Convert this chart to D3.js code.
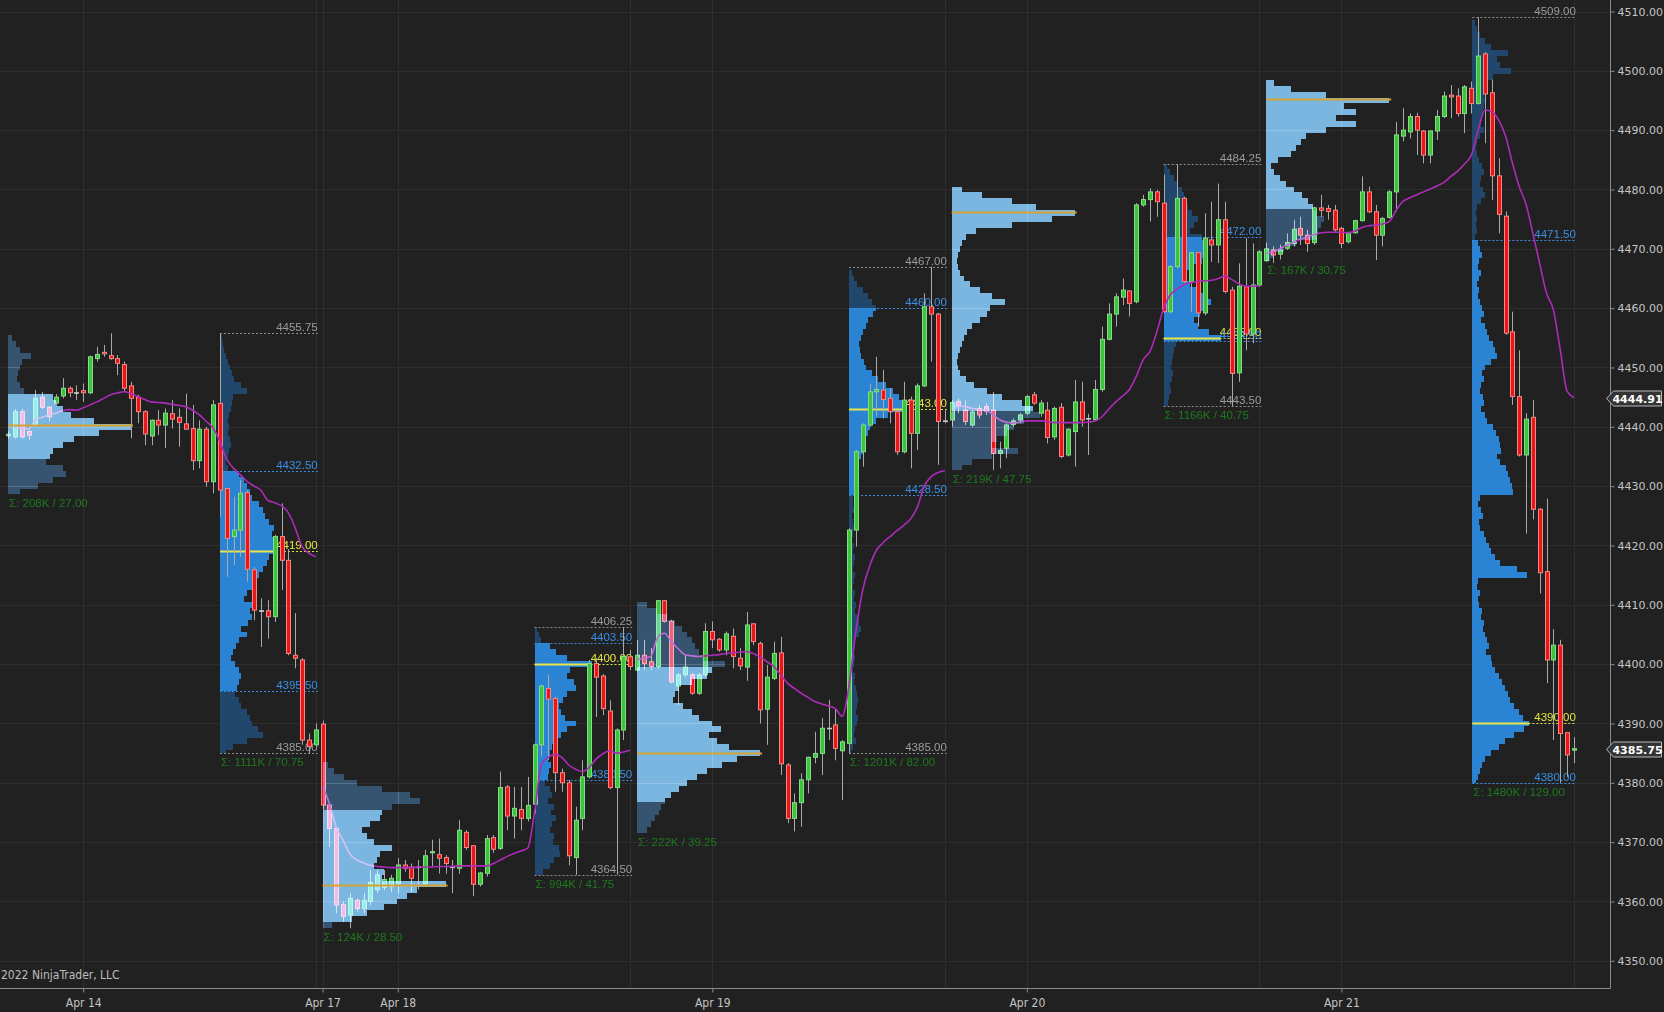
<!DOCTYPE html>
<html>
<head>
<meta charset="utf-8">
<script src="https://cdn.jsdelivr.net/npm/d3@7/dist/d3.min.js"></script>
<style>
  html, body { margin:0; padding:0; background:#212121; overflow:hidden; }
  svg { display:block; }
</style>
</head>
<body>
<svg id="chart" width="1664" height="1012"></svg>
<script>
// ---------------- DATA ----------------
const opens = [
4438.5,4438.3,4442.55,4439.2,4440.3,4445.0,4443.3,4444.0,4445.2,4446.5,
4445.75,4446.1,4445.75,4451.5,4452.55,4452.0,4451.5,4450.5,4446.9,4445.0,
4442.55,4438.45,4441.1,4440.3,4442.2,4441.6,4440.5,4439.7,4434.3,4439.6,
4430.75,4443.95,4429.6,4421.5,4422.6,4428.9,4415.9,4409.0,4409.0,4408.0,
4421.5,4417.5,4401.5,4400.7,4387.2,4386.4,4389.9,4376.25,4372.3,4359.5,
4357.7,4360.2,4358.8,4360.0,4362.0,4362.4,4362.5,4363.0,4366.15,4365.8,
4365.8,4363.0,4368.2,4367.9,4367.4,4365.8,4365.6,4371.65,4369.4,4362.9,
4364.75,4370.75,4368.95,4379.3,4374.4,4375.5,4374.0,4376.4,4386.4,4395.9,
4394.2,4381.7,4380.0,4367.4,4374.0,4381.0,4400.1,4398.0,4392.1,4379.2,
4388.9,4401.25,4399.0,4401.5,4400.4,4399.6,4410.7,4407.2,4396.3,4398.2,
4398.2,4395.1,4398.2,4405.5,4404.2,4402.4,4404.7,4401.0,4399.5,4406.8,
4403.5,4392.4,4397.6,4401.9,4383.0,4374.0,4376.65,4380.5,4384.3,4384.95,
4389.2,4389.75,4385.4,4386.65,4422.6,4435.8,4440.3,4445.9,4446.2,4444.8,
4442.55,4435.8,4444.5,4438.9,4446.9,4460.25,4459.0,4441.0,4441.15,4444.3,
4442.8,4440.3,4443.1,4443.4,4442.8,4435.5,4436.4,4440.4,4441.15,4442.3,
4445.4,4442.3,4442.8,4438.3,4443.3,4435.25,4439.2,4444.2,4441.4,4441.2,
4446.3,4454.75,4459.0,4461.85,4462.9,4461.1,4477.4,4478.3,4479.6,4477.7,
4459.4,4467.0,4478.5,4464.5,4469.35,4459.2,4471.5,4470.65,4474.9,4463.05,
4449.1,4463.6,4455.65,4463.9,4468.0,4469.8,4469.1,4470.1,4470.9,4473.45,
4472.3,4471.05,4476.9,4476.8,4476.5,4473.45,4471.2,4472.7,4474.75,4479.6,
4476.25,4472.3,4475.3,4479.6,4489.0,4489.7,4492.3,4489.86,4485.8,4489.86,
4492.3,4495.9,4495.75,4492.8,4497.05,4494.5,4502.85,4496.3,4482.3,4475.5,
4456.0,4445.1,4435.25,4441.6,4426.1,4415.6,4400.7,4403.2,4388.45,4385.5
];
const highs = [
4439.25,4443.0,4443.0,4439.5,4446.2,4445.9,4443.5,4445.5,4448.2,4446.8,
4447.0,4447.3,4452.0,4453.5,4453.8,4455.75,4452.1,4451.0,4447.6,4445.4,
4442.8,4441.25,4442.8,4443.1,4444.5,4443.1,4445.6,4443.7,4441.1,4440.0,
4444.5,4455.75,4429.6,4428.2,4431.0,4429.3,4416.4,4411.1,4410.8,4421.8,
4427.1,4419.4,4408.6,4401.0,4388.3,4390.0,4390.5,4376.5,4372.5,4360.0,
4361.4,4360.5,4361.4,4365.3,4365.3,4365.3,4364.5,4367.3,4367.0,4366.4,
4367.0,4368.7,4370.4,4370.6,4367.8,4367.0,4373.7,4372.0,4369.5,4365.0,
4371.2,4371.2,4381.9,4379.6,4379.3,4379.3,4381.0,4386.65,4396.5,4398.2,
4394.5,4382.4,4380.5,4376.0,4383.8,4400.7,4401.0,4398.3,4393.9,4389.2,
4406.25,4402.4,4404.1,4404.1,4402.7,4410.75,4410.75,4407.5,4398.5,4401.5,
4398.5,4398.5,4406.9,4407.2,4404.4,4405.5,4406.0,4402.7,4408.8,4406.9,
4403.8,4399.85,4403.8,4404.6,4383.3,4378.2,4381.6,4384.4,4388.6,4390.9,
4394.0,4392.6,4387.2,4422.9,4436.1,4440.6,4447.3,4451.8,4449.6,4446.5,
4442.8,4447.6,4445.1,4447.3,4462.5,4467.0,4459.2,4442.8,4444.5,4444.8,
4444.5,4442.8,4443.7,4444.0,4445.9,4437.5,4440.6,4441.4,4442.3,4445.4,
4445.9,4444.5,4444.2,4443.4,4444.0,4439.75,4447.9,4447.6,4442.2,4447.9,
4456.9,4460.8,4462.5,4465.0,4463.0,4477.7,4479.1,4480.2,4479.9,4482.5,
4467.3,4484.25,4478.8,4469.5,4469.5,4476.0,4477.95,4481.0,4477.95,4463.6,
4467.55,4471.8,4470.9,4469.8,4471.05,4470.4,4470.7,4472.6,4474.9,4475.4,
4473.2,4477.1,4479.1,4477.4,4477.4,4473.7,4472.9,4474.9,4482.2,4480.5,
4477.4,4475.4,4479.9,4491.4,4493.7,4492.8,4492.95,4490.0,4490.0,4493.4,
4496.5,4497.6,4497.05,4497.6,4498.2,4509.0,4503.2,4498.5,4485.25,4476.3,
4459.4,4452.9,4442.3,4444.5,4426.3,4427.9,4405.9,4404.1,4388.45,4387.7
];
const lows = [
4438.0,4438.0,4438.0,4437.8,4440.0,4443.0,4441.0,4443.5,4444.8,4445.0,
4444.5,4444.2,4445.5,4451.0,4451.8,4451.3,4448.7,4446.0,4438.05,4440.6,
4436.9,4436.9,4438.6,4436.4,4439.7,4436.65,4439.5,4432.7,4433.0,4429.9,
4428.8,4424.85,4414.7,4416.7,4418.1,4413.9,4407.4,4402.9,4404.3,4407.1,
4412.5,4401.5,4399.3,4386.4,4385.0,4386.1,4375.5,4369.2,4358.0,4356.6,
4355.5,4358.3,4358.0,4359.4,4361.5,4361.9,4361.6,4361.4,4365.0,4361.6,
4362.0,4362.8,4365.9,4364.7,4364.7,4361.4,4364.7,4368.7,4360.9,4362.5,
4364.2,4368.2,4368.7,4372.0,4370.6,4372.0,4373.5,4374.85,4384.4,4383.8,
4378.5,4378.5,4366.1,4364.5,4372.0,4380.7,4391.1,4391.4,4378.9,4364.5,
4387.2,4399.0,4398.8,4399.0,4399.0,4399.2,4407.0,4396.8,4393.1,4397.8,
4394.8,4394.8,4397.9,4402.7,4402.1,4401.5,4399.3,4399.0,4397.2,4403.2,
4390.0,4386.4,4397.3,4381.3,4373.2,4371.8,4372.6,4378.2,4383.3,4381.3,
4387.2,4383.8,4377.1,4385.0,4419.8,4433.3,4440.0,4441.7,4441.4,4440.6,
4435.25,4435.5,4433.0,4436.1,4446.7,4451.0,4433.6,4440.6,4440.0,4442.3,
4440.3,4440.0,4441.4,4442.0,4432.7,4433.0,4434.7,4440.0,4440.6,4442.0,
4443.7,4441.7,4437.2,4437.8,4434.7,4435.0,4433.3,4440.0,4435.25,4441.1,
4445.9,4454.6,4456.9,4460.5,4458.6,4460.8,4477.1,4474.6,4475.4,4459.2,
4459.1,4466.7,4464.2,4459.4,4456.9,4458.8,4467.8,4467.6,4462.5,4443.5,
4447.6,4452.9,4454.1,4463.6,4467.8,4467.6,4468.2,4469.8,4470.4,4470.65,
4469.5,4470.65,4475.4,4474.9,4472.9,4470.1,4470.9,4472.6,4474.6,4476.0,
4468.1,4470.4,4475.1,4476.3,4488.1,4488.6,4485.8,4484.4,4484.4,4488.35,
4492.0,4492.0,4492.3,4489.5,4492.8,4494.3,4487.8,4478.2,4472.6,4455.5,
4443.7,4435.0,4422.0,4424.4,4411.9,4396.8,4387.2,4380.0,4381.0,4383.3
];
const closes = [
4438.75,4442.55,4438.3,4438.6,4444.8,4443.3,4441.7,4445.0,4446.5,4445.75,
4445.75,4445.75,4451.8,4452.2,4452.3,4451.5,4450.7,4446.5,4444.8,4442.55,
4438.8,4441.1,4440.3,4442.3,4441.3,4440.75,4439.6,4434.3,4439.6,4430.75,
4443.7,4429.35,4421.2,4422.6,4428.8,4416.0,4409.1,4409.0,4408.0,4421.5,
4417.5,4401.8,4401.0,4387.2,4386.1,4388.9,4376.25,4372.3,4359.4,4357.5,
4360.5,4358.8,4360.2,4363.2,4364.5,4363.7,4363.9,4366.15,4365.6,4363.9,
4365.8,4367.7,4368.4,4367.3,4366.4,4365.8,4372.0,4369.1,4362.9,4364.8,
4370.6,4368.8,4379.2,4374.4,4375.7,4374.0,4376.2,4386.4,4396.3,4394.1,
4381.7,4380.0,4367.7,4373.7,4381.0,4400.1,4397.8,4392.5,4379.2,4388.9,
4401.3,4399.6,4401.5,4400.1,4399.6,4410.7,4407.2,4397.0,4398.2,4399.5,
4395.1,4398.2,4405.5,4404.1,4402.4,4405.1,4401.3,4399.7,4406.6,4403.8,
4392.3,4397.8,4401.8,4383.2,4374.0,4376.65,4380.5,4384.3,4384.95,4389.2,
4389.2,4385.8,4386.9,4422.6,4435.8,4440.3,4445.9,4446.3,4444.6,4442.55,
4435.8,4444.5,4438.9,4446.9,4460.25,4459.0,4440.9,4441.0,4444.1,4443.6,
4440.9,4442.5,4442.0,4442.6,4435.5,4436.0,4440.3,4441.0,4442.0,4445.1,
4444.0,4444.0,4438.2,4443.1,4435.0,4439.6,4444.2,4441.15,4441.4,4446.3,
4454.75,4459.0,4461.9,4463.05,4460.8,4477.4,4478.3,4479.6,4477.95,4459.4,
4467.0,4478.5,4464.5,4469.35,4459.2,4471.8,4470.65,4474.9,4462.8,4449.0,
4463.7,4455.65,4463.9,4469.5,4470.0,4468.96,4469.8,4471.05,4473.3,4472.3,
4470.9,4476.9,4476.5,4476.3,4473.2,4470.9,4472.7,4474.75,4479.6,4476.25,
4472.3,4475.1,4479.6,4489.2,4490.0,4492.3,4490.0,4485.8,4489.86,4492.3,
4495.75,4495.6,4492.8,4497.3,4494.5,4502.5,4496.1,4482.3,4475.8,4455.8,
4445.1,4435.25,4441.3,4426.1,4415.4,4400.7,4403.2,4388.3,4384.7,4385.75
];
const vwap = [
null,4440.0,4439.8,4439.6,4441.2,4441.6,4442.0,4442.3,4442.7,4442.9,
4442.8,4443.2,4443.7,4444.2,4444.8,4445.4,4445.7,4445.9,4445.6,4445.1,
4444.6,4444.2,4444.1,4444.0,4443.8,4443.6,4443.4,4442.8,4442.0,4440.9,
4439.8,4437.5,4434.5,4433.0,4431.9,4430.75,4430.0,4429.3,4427.6,4427.2,
4426.7,4425.5,4423.0,4419.8,4418.7,4418.1,4379.5,4376.5,4372.5,4370.3,
4368.0,4367.0,4366.5,4366.1,4365.9,4365.8,4365.7,4365.7,4365.7,4365.7,
4365.8,4365.8,4365.8,4365.9,4365.9,4365.9,4366.0,4366.0,4366.0,4366.0,
4366.0,4366.4,4367.0,4367.6,4368.1,4368.5,4369.0,4375.0,4383.0,4384.3,
4384.8,4384.3,4383.0,4382.3,4381.9,4382.6,4384.0,4384.9,4385.4,4385.0,
4385.2,4385.5,4400.8,4401.0,4401.3,4404.5,4405.2,4403.8,4402.6,4401.6,
4401.4,4401.3,4401.4,4401.5,4401.6,4401.8,4401.9,4402.0,4402.1,4401.8,
4401.2,4400.4,4399.6,4398.2,4396.8,4395.9,4395.1,4394.4,4393.7,4393.3,
4392.95,4392.5,4391.2,4396.5,4405.5,4412.5,4416.5,4419.2,4420.5,4421.5,
4422.5,4423.4,4424.5,4426.5,4430.0,4431.6,4432.3,4432.6,4442.5,4443.5,
4443.4,4443.1,4442.9,4442.7,4442.1,4441.2,4440.8,4440.6,4440.8,4441.0,
4441.0,4441.0,4440.9,4440.7,4440.7,4440.7,4440.7,4440.7,4440.8,4441.0,
4441.7,4443.0,4444.2,4445.2,4446.3,4448.5,4451.3,4452.7,4456.0,4460.0,
4462.3,4463.2,4464.0,4464.3,4464.5,4464.6,4464.7,4465.0,4465.4,4464.8,
4464.1,4463.7,4463.7,4463.8,4469.3,4469.5,4470.0,4470.6,4471.1,4471.6,
4472.0,4472.4,4472.7,4472.8,4472.8,4472.8,4472.7,4473.0,4473.6,4473.9,
4474.0,4474.2,4474.6,4476.5,4478.0,4478.6,4479.1,4479.6,4480.1,4480.6,
4481.2,4482.2,4483.1,4484.3,4485.8,4490.0,4493.4,4493.1,4491.7,4489.0,
4484.5,4480.5,4477.5,4472.6,4467.5,4462.5,4459.7,4453.0,4446.0,4444.91
];
const vwapSessions = [[1,45],[46,91],[92,137],[138,183],[184,229]];

const priceTicks = [4350,4360,4370,4380,4390,4400,4410,4420,4430,4440,4450,4460,4470,4480,4490,4500,4510];
const dateLabels = ["Apr 14","Apr 17","Apr 18","Apr 19","Apr 20","Apr 21"];
const dateBars = [11,46,57,103,149,195];
const sessionEndBars = [45,91,137,183,229];
const lastPrice = 4385.75;
const lastVwap = 4444.91;
const copyrightText = "2022 NinjaTrader, LLC";

// volume profiles (volume per 1-point level, listed from top level downwards)
const profKinds    = ["ETH","RTH","ETH","RTH","ETH","RTH","ETH","RTH","ETH","RTH"];
const profStartBar = [0,31,46,77,92,123,138,169,184,214.15];
const profEndBar   = [30,45,76,91,122,137,168,183,214,229];
const profTopLevel = [4455,4455,4383,4406,4410,4466,4480,4484,4498,4508];
const profHigh = [4455.75,4455.75,4384.00,4406.25,4410.75,4467.00,4480.50,4484.25,4498.75,4509.00];
const profLow  = [4428.75,4385.00,4355.50,4364.50,4371.50,4385.00,4432.75,4443.50,4468.00,4380.00];
const profVAH  = [4445.50,4432.50,4375.50,4403.50,4399.50,4460.00,4480.50,4472.00,4498.75,4471.50];
const profVAL  = [4434.50,4395.50,4356.50,4380.50,4376.75,4428.50,4442.75,4454.50,4476.75,4380.00];
const profPOC  = [4440.25,4419.00,4362.75,4400.00,4385.00,4443.00,4476.25,4455.00,4495.25,4390.00];
const profVolK = [208,1111,124,994,222,1201,219,1166,167,1480];

const prof1Vol = [4,8,12,23,14,12,10,9,12,16,45,48,55,62,85,122,90,65,55,45,42,38,55,58,45,30,12];
const prof2Vol = [2,3,4,6,7,9,11,13,20,25,12,11,10,8,7,8,7,9,10,8,7,6,7,
  18,22,25,28,30,36,40,42,46,50,48,50,52,53,46,44,40,36,33,30,25,22,34,28,30,26,20,25,18,15,12,10,14,18,20,18,16,
  14,18,20,25,28,30,35,40,25,12,6];
const prof3Vol = [6,12,22,35,60,88,98,70,60,58,48,40,45,52,70,58,55,52,62,60,124,95,85,75,62,45,30,10,5];
const prof4Vol = [2,4,6,14,20,30,52,32,30,36,38,30,26,22,24,28,38,30,24,20,16,14,12,15,13,12,10,14,16,12,18,15,20,16,14,18,17,22,23,18,14,8,4];
const prof5Vol = [10,20,30,38,45,50,55,58,62,66,88,75,70,55,42,38,36,46,55,62,75,84,72,80,92,123,100,85,70,60,50,42,34,28,24,22,18,14,10,4];
const prof6Vol = [3,5,8,14,20,24,28,25,20,18,14,12,10,11,12,15,18,24,30,38,45,52,55,59,40,28,22,20,18,17,15,12,10,8,9,8,7,8,4,
  4,5,3,4,5,4,3,5,4,6,5,4,6,5,4,6,5,7,6,8,10,12,10,6,5,4,6,5,4,6,5,7,8,9,8,7,9,8,6,5,7,4,2];
const prof7Vol = [10,30,60,84,123,100,60,24,14,10,8,6,5,6,8,12,18,28,40,53,38,35,28,20,15,12,10,8,6,5,6,8,14,22,35,50,70,81,88,72,62,55,45,40,66,40,20,10,5];
const prof8Vol = [3,6,10,14,18,20,22,24,28,34,30,26,38,40,44,42,38,30,22,18,26,37,42,47,44,36,30,34,45,57,12,10,9,8,7,9,8,6,7,5,4,3];
const prof9Vol = [8,25,60,123,78,90,70,90,60,40,35,30,25,12,5,8,14,20,28,36,42,47,50,58,55,52,50,30,18,8,4];
const prof10Vol = [3,5,8,14,20,38,26,30,41,22,16,13,12,14,12,11,10,9,12,8,5,4,5,7,10,12,9,8,11,13,
  9,5,4,5,4,5,3,6,8,10,7,6,9,7,5,7,6,8,10,12,9,14,16,18,22,24,26,20,14,10,
  12,9,8,11,12,9,13,16,22,25,28,30,31,26,30,36,38,40,42,44,8,6,9,11,7,8,12,15,18,20,
  24,30,48,59,6,5,8,6,7,10,9,12,11,14,16,18,15,20,21,24,28,32,35,38,40,45,50,54,61,55,
  45,35,28,20,14,10,8,6,4];
const profVols = [prof1Vol,prof2Vol,prof3Vol,prof4Vol,prof5Vol,prof6Vol,prof7Vol,prof8Vol,prof9Vol,prof10Vol];

// ---------------- DRAWING ----------------
const svg = d3.select('#chart');
const PLOT_R = 1610, PLOT_B = 988;
const x = d3.scaleLinear().domain([0, 229]).range([8, 8 + 6.838 * 229]);
const y = d3.scaleLinear().domain([4350, 4510]).range([960.8, 11.5]);
const fmt = d3.format('.2f');
const LABEL_FONT = "'Liberation Sans', Arial, sans-serif";
const NARROW_FONT = "'Liberation Sans Narrow','Arial Narrow','DejaVu Sans Condensed',sans-serif";

svg.append('rect').attr('width',1664).attr('height',1012).attr('fill','#212121');
svg.append('defs').append('clipPath').attr('id','plotclip')
  .append('rect').attr('x',0).attr('y',0).attr('width',PLOT_R).attr('height',PLOT_B);
const plot = svg.append('g').attr('clip-path','url(#plotclip)');

// grid
plot.append('g').selectAll('line').data(priceTicks).join('line')
  .attr('x1',0).attr('x2',PLOT_R)
  .attr('y1',d=>Math.round(y(d))+0.5).attr('y2',d=>Math.round(y(d))+0.5)
  .attr('stroke','#2e2e2e').attr('stroke-width',1);
plot.append('g').selectAll('line').data(dateBars.concat(sessionEndBars)).join('line')
  .attr('x1',d=>Math.round(x(d))+0.5).attr('x2',d=>Math.round(x(d))+0.5)
  .attr('y1',0).attr('y2',PLOT_B)
  .attr('stroke','#2e2e2e').attr('stroke-width',1);

// profile geometry helper
function profilePieces(k){
  const vols = profVols[k], top = profTopLevel[k];
  const pieces = [];
  vols.forEach((v,j)=>{
    const p = top - j;
    const lo = Math.max(p-0.5, profLow[k]), hi = Math.min(p+0.5, profHigh[k]);
    if (hi <= lo) return;
    const cuts = [lo, hi];
    [profVAL[k], profVAH[k]].forEach(c=>{ if (c>lo && c<hi) cuts.push(c); });
    cuts.sort((a,b)=>a-b);
    for (let t=0;t<cuts.length-1;t++){
      const a=cuts[t], b=cuts[t+1], mid=(a+b)/2;
      pieces.push({a, b, v, inVA: mid>=profVAL[k] && mid<=profVAH[k]});
    }
  });
  return pieces;
}
function widthScale(k){
  return d3.scaleLinear().domain([0, d3.max(profVols[k])]).range([0, profKinds[k]==='ETH'?123:57]);
}

// RTH profiles (under candles)
const rthG = plot.append('g');
profKinds.forEach((kind,k)=>{
  if (kind !== 'RTH') return;
  const x0 = x(profStartBar[k]);
  const ws = widthScale(k);
  const g = rthG.append('g');
  g.selectAll('rect').data(profilePieces(k)).join('rect')
    .attr('x', x0).attr('width', d=>ws(d.v))
    .attr('y', d=>y(d.b)).attr('height', d=>y(d.a)-y(d.b))
    .attr('fill', d=>d.inVA ? '#2b83d3' : '#22476c')
    .attr('shape-rendering','crispEdges');
  const xEnd = x(profEndBar[k]) + 2;
  const levels = [
    {p: profHigh[k], c: '#8f8f8f', t: '#9c9c9c'},
    {p: profVAH[k],  c: '#3a8de0', t: '#3a8fe6'},
    {p: profPOC[k],  c: '#e0e040', t: '#e6e63c', poc: true},
    {p: profVAL[k],  c: '#3a8de0', t: '#3a8fe6'}
  ];
  if (profLow[k] !== profVAL[k]) levels.push({p: profLow[k], c: '#8f8f8f', t: '#9c9c9c'});
  levels.forEach(L=>{
    const yy = Math.round(y(L.p)) + 0.5;
    g.append('line').attr('x1', x0).attr('x2', xEnd).attr('y1', yy).attr('y2', yy)
      .attr('stroke', L.c).attr('stroke-width', 1).attr('stroke-dasharray','2,2');
    if (L.poc) {
      g.append('line').attr('x1', x0).attr('x2', x0 + ws(d3.max(profVols[k]))).attr('y1', yy).attr('y2', yy)
        .attr('stroke', '#e6e64a').attr('stroke-width', 2);
    }
    g.append('text').attr('x', xEnd).attr('y', yy - 2.5).attr('text-anchor','end')
      .attr('font-family', LABEL_FONT).attr('font-size', 11.5).attr('fill', L.t)
      .text(fmt(L.p));
  });
});

// candles
const bars = opens.map((o,i)=>({i, o, h:highs[i], l:lows[i], c:closes[i]}));
const cx = d => Math.round(x(d.i));
const cg = plot.append('g');
cg.selectAll('line').data(bars).join('line')
  .attr('x1', d=>cx(d)+0.5).attr('x2', d=>cx(d)+0.5)
  .attr('y1', d=>y(d.h)).attr('y2', d=>y(d.l))
  .attr('stroke', '#a9a9a9').attr('stroke-width', 1);
cg.selectAll('rect').data(bars).join('rect')
  .attr('x', d=>cx(d)-1.5).attr('width', 4)
  .attr('y', d=>y(Math.max(d.o,d.c)))
  .attr('height', d=>Math.max(0.6, Math.abs(y(d.o)-y(d.c))))
  .attr('fill', d=> d.c>d.o ? '#3cc43c' : d.c<d.o ? '#e81818' : '#c8c8c8')
  .attr('stroke', d=> d.c>d.o ? '#86dc86' : d.c<d.o ? '#f28888' : '#c8c8c8')
  .attr('stroke-width', 1);

// VWAP
const vline = d3.line().x(d=>x(d.i)).y(d=>y(d.v)).curve(d3.curveMonotoneX);
const vg = plot.append('g');
vwapSessions.forEach(([a,b])=>{
  const pts = d3.range(a, b+1).filter(i=>vwap[i]!=null).map(i=>({i, v:vwap[i]}));
  vg.append('path').attr('d', vline(pts)).attr('fill','none')
    .attr('stroke','#ad2bb8').attr('stroke-width',1.6);
});

// ETH profiles (screen-blended overlay)
const ethG = plot.append('g').style('mix-blend-mode','screen');
profKinds.forEach((kind,k)=>{
  if (kind !== 'ETH') return;
  const x0 = x(profStartBar[k]);
  const ws = widthScale(k);
  ethG.append('g').selectAll('rect').data(profilePieces(k)).join('rect')
    .attr('x', x0).attr('width', d=>ws(d.v))
    .attr('y', d=>y(d.b)).attr('height', d=>y(d.a)-y(d.b))
    .attr('fill', d=>d.inVA ? '#7ab6e0' : '#36536f')
    .attr('shape-rendering','crispEdges');
});
// ETH POC lines
profKinds.forEach((kind,k)=>{
  if (kind !== 'ETH') return;
  const x0 = x(profStartBar[k]);
  const ws = widthScale(k);
  const yy = Math.round(y(profPOC[k])) + 0.5;
  plot.append('line').attr('x1', x0).attr('x2', x0 + ws(d3.max(profVols[k])) + 2)
    .attr('y1', yy).attr('y2', yy).attr('stroke','#d6a332').attr('stroke-width',2);
});
// Sigma labels
profKinds.forEach((kind,k)=>{
  plot.append('text').attr('x', x(profStartBar[k]) + 1).attr('y', y(profLow[k]) + 13)
    .attr('font-family', LABEL_FONT).attr('font-size', 11.5).attr('fill', '#1e7a1e')
    .text('Σ: ' + profVolK[k] + 'K / ' + fmt(profHigh[k] - profLow[k]));
});

// copyright
svg.append('text').attr('x', 1).attr('y', 979)
  .attr('font-family', NARROW_FONT)
  .attr('font-size', 12).attr('fill', '#bdbdbd')
  .text(copyrightText);

// axes
const yAxis = d3.axisRight(y).tickValues(priceTicks).tickFormat(fmt).tickSize(4).tickPadding(3);
const ya = svg.append('g').attr('transform', `translate(${PLOT_R + 0.5},0)`).call(yAxis);
ya.select('.domain').remove();
ya.selectAll('line').attr('stroke', '#8c8c8c');
ya.selectAll('text').attr('fill', '#c4c4c4').attr('font-family', "'DejaVu Sans', Verdana, sans-serif").attr('font-size', 11);

const xAxis = d3.axisBottom(x).tickValues(dateBars).tickFormat((d,i)=>dateLabels[i]).tickSize(4).tickPadding(6);
const xa = svg.append('g').attr('transform', `translate(0,${PLOT_B + 0.5})`).call(xAxis);
xa.select('.domain').remove();
xa.selectAll('line').attr('stroke', '#8c8c8c');
xa.selectAll('text').attr('fill', '#c4c4c4')
  .attr('font-family', NARROW_FONT).attr('font-size', 12);

svg.append('line').attr('x1', PLOT_R + 0.5).attr('x2', PLOT_R + 0.5).attr('y1', 0).attr('y2', PLOT_B + 0.5)
  .attr('stroke', '#8c8c8c').attr('stroke-width', 1);
svg.append('line').attr('x1', 0).attr('x2', PLOT_R + 0.5).attr('y1', PLOT_B + 0.5).attr('y2', PLOT_B + 0.5)
  .attr('stroke', '#8c8c8c').attr('stroke-width', 1);

// price markers
[lastVwap, lastPrice].forEach(v=>{
  const yy = Math.round(y(v)) + 0.5;
  const left = PLOT_R - 3.5, right = 1661.5;
  const mg = svg.append('g');
  mg.append('path')
    .attr('d', `M${left},${yy} L${left+7},${yy-7.5} L${right},${yy-7.5} L${right},${yy+7.5} L${left+7},${yy+7.5} Z`)
    .attr('fill', '#343434').attr('stroke', '#b8b8b8').attr('stroke-width', 1);
  mg.append('text').attr('x', (left + 7 + right)/2).attr('y', yy + 4).attr('text-anchor', 'middle')
    .attr('font-family', "'DejaVu Sans', Verdana, sans-serif").attr('font-size', 11).attr('font-weight', 'bold')
    .attr('fill', '#ffffff').text(fmt(v));
});
</script>
</body>
</html>
